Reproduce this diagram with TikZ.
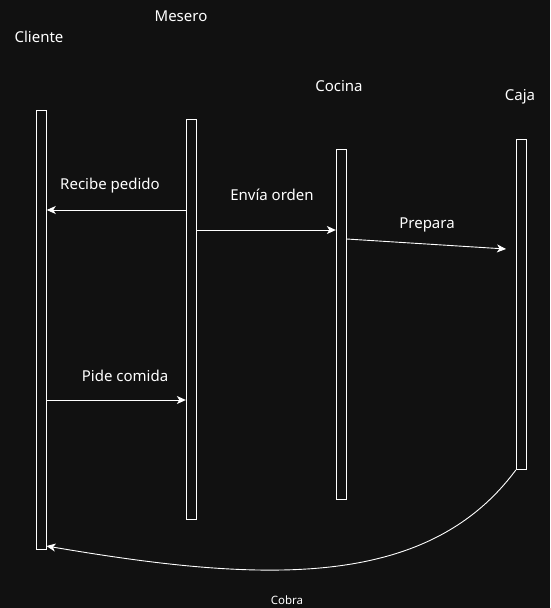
\documentclass[tikz,border=0pt]{standalone}
\usepackage{fontspec}
\setmainfont{Noto Sans}
\usetikzlibrary{arrows.meta}
\definecolor{bg}{HTML}{111111}
\definecolor{fg}{HTML}{FFFFFF}
\tikzset{
  life/.style={draw=white, line width=0.9pt, minimum width=10pt, inner sep=0pt, rectangle},
  actor/.style={text=fg, font=\fontsize{15}{17}\selectfont, inner sep=0pt},
  lbl/.style={text=fg, font=\fontsize{15}{17}\selectfont, inner sep=0pt},
  msg/.style={draw=white, line width=0.9pt, -{Stealth[length=9pt,width=8pt,inset=2.5pt]}},
}
\begin{document}
\begin{tikzpicture}[x=1pt,y=-1pt]
\fill[bg] (0,0) rectangle (550,608);
\useasboundingbox (0,0) rectangle (550,608);
% lifelines
\node[life, minimum height=439pt] (cli) at (41.3,329.5) {};
\node[life, minimum height=400pt] (mes) at (191.3,319.5) {};
\node[life, minimum height=350pt] (coc) at (341.3,324.5) {};
\node[life, minimum height=330pt] (caj) at (521.3,304.5) {};
% actor labels
\node[actor] (tcli) at (39,37) {Cliente};
\node[actor] (tmes) at (181,16) {Mesero};
\node[actor] (tcoc) at (339,86) {Cocina};
\node[actor] (tcaj) at (520,97) {Caja};
% message rows
\coordinate (r1) at (0,210);
\coordinate (r2) at (0,230);
\coordinate (r3) at (0,239);
\coordinate (r4) at (0,400);
\coordinate (pend) at (506,249);
\coordinate (cend) at (46.5,546);
\draw[msg] (mes.west |- r1) -- (cli.east |- r1);
\draw[msg] (mes.east |- r2) -- (coc.west |- r2);
\draw[msg] (coc.east |- r3) -- (pend);
\draw[msg] (cli.east |- r4) -- (mes.west |- r4);
\draw[msg] (caj.south west) .. controls (427,590) and (263,583) .. (cend);
% message labels
\node[lbl] (l1) at (110,186) {Recibe pedido};
\node[lbl] (l2) at (272,195) {Envía orden};
\node[lbl] (l3) at (427,225) {Prepara};
\node[lbl] (l4) at (125,376) {Pide comida};
\node[lbl, font=\fontsize{11.5}{13}\selectfont] (l5) at (287,600) {Cobra};
\end{tikzpicture}
\end{document}
